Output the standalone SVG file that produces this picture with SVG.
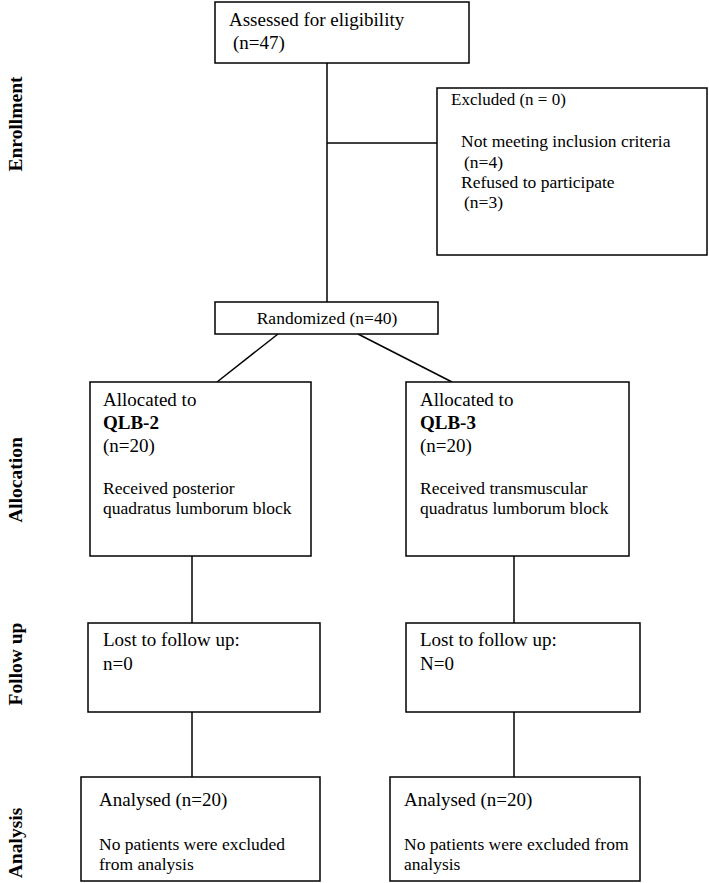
<svg xmlns="http://www.w3.org/2000/svg" width="709" height="883" viewBox="0 0 709 883">
<style>
.box{fill:#fff;stroke:#000;stroke-width:1.5}
.ln{stroke:#000;stroke-width:1.5;fill:none}
.t{font-family:"Liberation Serif","Times New Roman",serif;font-size:19px;fill:#000}
.s{font-family:"Liberation Serif","Times New Roman",serif;font-size:17.5px;fill:#000}
.b{font-weight:bold}
.side{font-family:"Liberation Serif","Times New Roman",serif;font-size:19.5px;font-weight:bold;fill:#000;text-anchor:middle}
</style>
<rect width="709" height="883" fill="#fff"/>
<g id="connectors">
<line class="ln" x1="327" y1="63" x2="327" y2="302"/>
<line class="ln" x1="327" y1="143" x2="437" y2="143"/>
<line class="ln" x1="278" y1="334" x2="217" y2="382"/>
<line class="ln" x1="358" y1="334" x2="452" y2="382"/>
<line class="ln" x1="192" y1="556" x2="192" y2="623"/>
<line class="ln" x1="514" y1="556" x2="514" y2="623"/>
<line class="ln" x1="192" y1="712" x2="192" y2="777"/>
<line class="ln" x1="514" y1="712" x2="514" y2="777"/>
</g>
<g id="labels">
<text class="side" transform="translate(22,124) rotate(-90)">Enrollment</text>
<text class="side" transform="translate(22,480) rotate(-90)">Allocation</text>
<text class="side" transform="translate(22,664) rotate(-90)">Follow up</text>
<text class="side" transform="translate(22,843) rotate(-90)">Analysis</text>
</g>
<g id="assessed">
<rect class="box" x="215" y="2" width="254" height="61"/>
<text class="t" x="229" y="26">Assessed for eligibility</text>
<text class="t" x="233" y="49">(n=47)</text>
</g>
<g id="excluded">
<rect class="box" x="437" y="88" width="270" height="167"/>
<text class="t" x="451" y="105" style="font-size:17px">Excluded (n = 0)</text>
<text class="s" x="461" y="147">Not meeting inclusion criteria</text>
<text class="s" x="464" y="168">(n=4)</text>
<text class="s" x="461" y="188">Refused to participate</text>
<text class="s" x="464" y="208">(n=3)</text>
</g>
<g id="randomized">
<rect class="box" x="215" y="302" width="223" height="32"/>
<text class="s" x="327" y="324" text-anchor="middle">Randomized (n=40)</text>
</g>
<g id="alloc-qlb2">
<rect class="box" x="90" y="382" width="221" height="174"/>
<text class="t" x="103" y="406">Allocated to</text>
<text class="t b" x="103" y="429">QLB-2</text>
<text class="t" x="103" y="452">(n=20)</text>
<text class="s" x="103" y="494">Received posterior</text>
<text class="s" x="103" y="514">quadratus lumborum block</text>
</g>
<g id="alloc-qlb3">
<rect class="box" x="406" y="382" width="223" height="174"/>
<text class="t" x="420" y="406">Allocated to</text>
<text class="t b" x="420" y="429">QLB-3</text>
<text class="t" x="420" y="452">(n=20)</text>
<text class="s" x="420" y="494">Received transmuscular</text>
<text class="s" x="420" y="514">quadratus lumborum block</text>
</g>
<g id="followup-left">
<rect class="box" x="88" y="623" width="232" height="89"/>
<text class="t" x="103" y="646">Lost to follow up:</text>
<text class="t" x="103" y="670">n=0</text>
</g>
<g id="followup-right">
<rect class="box" x="406" y="623" width="234" height="89"/>
<text class="t" x="420" y="646">Lost to follow up:</text>
<text class="t" x="420" y="670">N=0</text>
</g>
<g id="analysis-left">
<rect class="box" x="81" y="777" width="239" height="104"/>
<text class="t" x="99" y="806">Analysed (n=20)</text>
<text class="s" x="99" y="850">No patients were excluded</text>
<text class="s" x="99" y="870">from analysis</text>
</g>
<g id="analysis-right">
<rect class="box" x="390" y="777" width="250" height="104"/>
<text class="t" x="404" y="806">Analysed (n=20)</text>
<text class="s" x="404" y="850">No patients were excluded from</text>
<text class="s" x="404" y="870">analysis</text>
</g>
</svg>
